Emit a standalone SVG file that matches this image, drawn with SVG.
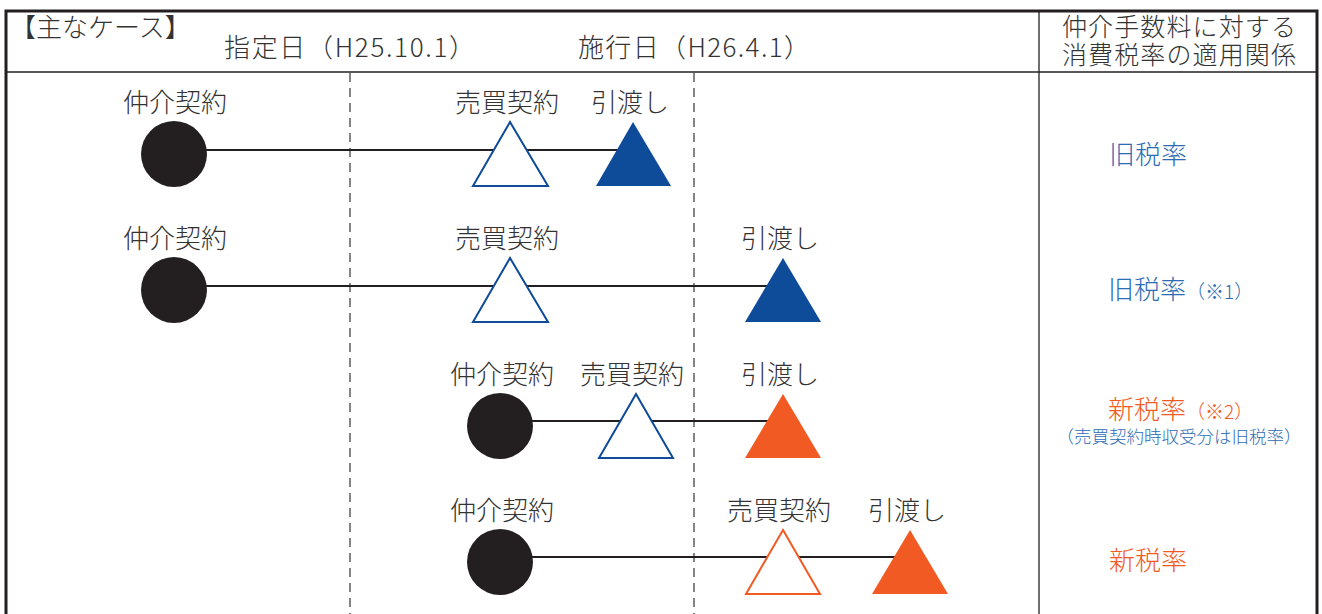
<svg xmlns="http://www.w3.org/2000/svg" width="1322" height="614" viewBox="0 0 1322 614">
<style>
.t{font-family:"Noto Sans CJK JP","Noto Sans",sans-serif;fill:#333;font-size:26px;font-weight:300}
.h{font-size:25px}
.s{font-size:19px}
.n{font-size:17.5px}
.m{text-anchor:middle}
.b{fill:#2d6cb5}
.o{fill:#f15a22}
.circ{fill:#231f20}
.wb{fill:#fff;stroke:#0e4c9a;stroke-width:2}
.wo{fill:#fff;stroke:#f15a22;stroke-width:2}
.fb{fill:#0e4c9a}
.fo{fill:#f15a22}
.ln{stroke:#231f20;stroke-width:2;fill:none}
.dash{stroke:#444;stroke-width:1.3;stroke-dasharray:9,6;fill:none}
</style>
<rect width="1322" height="614" fill="#fff"/>
<g id="frame">
<path d="M6,614 V11 H1317 V614" fill="none" stroke="#231f20" stroke-width="3"/>
<line x1="6" y1="72" x2="1317" y2="72" stroke="#231f20" stroke-width="1.3"/>
<line x1="1039" y1="11" x2="1039" y2="614" stroke="#231f20" stroke-width="1.3"/>
</g>
<g id="header">
<text class="t" x="10" y="37">【主なケース】</text>
<text class="t" x="224" y="57" textLength="251" lengthAdjust="spacing">指定日（H25.10.1）</text>
<text class="t" x="578" y="57" textLength="232" lengthAdjust="spacing">施行日（H26.4.1）</text>
<text class="t h m" x="1179" y="36" textLength="234" lengthAdjust="spacing">仲介手数料に対する</text>
<text class="t h m" x="1179" y="64" textLength="234" lengthAdjust="spacing">消費税率の適用関係</text>
</g>
<g id="connectors">
<line class="dash" x1="350" y1="73" x2="350" y2="614"/>
<line class="dash" x1="694" y1="73" x2="694" y2="614"/>
<line class="ln" x1="200" y1="150" x2="630" y2="150"/>
<line class="ln" x1="200" y1="286" x2="783" y2="286"/>
<line class="ln" x1="530" y1="421" x2="783" y2="421"/>
<line class="ln" x1="530" y1="557" x2="910" y2="557"/>
</g>
<g id="row1">
<text class="t m" x="175" y="112">仲介契約</text>
<text class="t m" x="507" y="112">売買契約</text>
<text class="t m" x="630" y="112">引渡し</text>
<circle class="circ" cx="174" cy="154" r="33"/>
<polygon class="wb" points="510,122 473,186 548,186"/>
<polygon class="fb" points="633,122 596,186 671,186"/>
<text class="t m b" x="1148" y="164">旧税率</text>
</g>
<g id="row2">
<text class="t m" x="175" y="248">仲介契約</text>
<text class="t m" x="507" y="248">売買契約</text>
<text class="t m" x="780" y="248">引渡し</text>
<circle class="circ" cx="174" cy="290" r="33"/>
<polygon class="wb" points="510,258 473,322 548,322"/>
<polygon class="fb" points="783,258 745,322 821,322"/>
<text class="t b" x="1108" y="299">旧税率<tspan class="s">（※1）</tspan></text>
</g>
<g id="row3">
<text class="t m" x="502" y="384">仲介契約</text>
<text class="t m" x="632" y="384">売買契約</text>
<text class="t m" x="780" y="384">引渡し</text>
<circle class="circ" cx="500" cy="426" r="33"/>
<polygon class="wb" points="636,394 599,458 673,458"/>
<polygon class="fo" points="783,394 745,458 821,458"/>
<text class="t o" x="1108" y="419">新税率<tspan class="s">（※2）</tspan></text>
<text class="t m b n" x="1179" y="443">（売買契約時収受分は旧税率）</text>
</g>
<g id="row4">
<text class="t m" x="502" y="520">仲介契約</text>
<text class="t m" x="779" y="520">売買契約</text>
<text class="t m" x="907" y="520">引渡し</text>
<circle class="circ" cx="500" cy="562" r="33"/>
<polygon class="wo" points="783,530 746,594 820,594"/>
<polygon class="fo" points="910,530 872,594 948,594"/>
<text class="t m o" x="1148" y="570">新税率</text>
</g>
</svg>
